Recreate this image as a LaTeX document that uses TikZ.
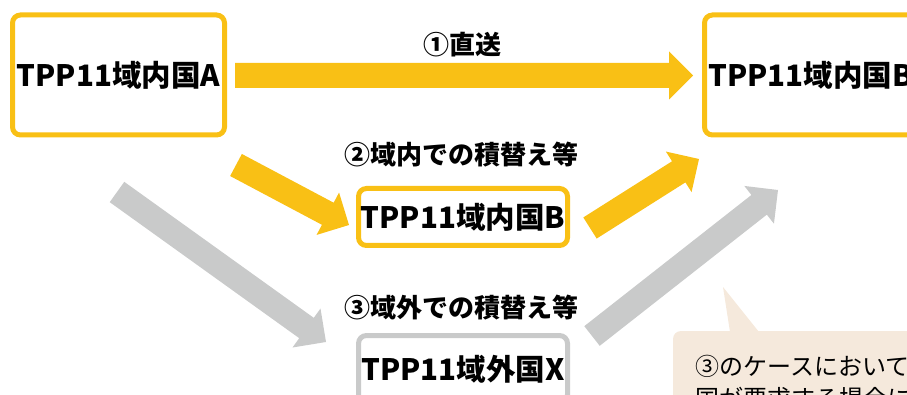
\documentclass[tikz,border=0pt]{standalone}
\usepackage{fontspec}
\setmainfont{Noto Sans CJK JP}
\usetikzlibrary{calc}
\definecolor{tyellow}{HTML}{F9C015}
\definecolor{tgray}{HTML}{C9CACA}
\definecolor{tbeige}{HTML}{F5E9DC}
\newcommand\fatarrow[3]{%
  \coordinate (fa-h) at ($(#3)!24pt!(#2)$);
  \fill[#1] ($(#2)!12.5pt!90:(#3)$) -- ($(fa-h)!12.5pt!90:(#3)$) -- ($(fa-h)!24pt!90:(#3)$) -- (#3)
    -- ($(fa-h)!24pt!-90:(#3)$) -- ($(fa-h)!12.5pt!-90:(#3)$) -- ($(#2)!12.5pt!-90:(#3)$) -- cycle;
}
\tikzset{
  box/.style={draw=tyellow, line width=5pt, rounded corners=8pt, fill=white, inner sep=0pt,
    font=\bfseries\fontsize{29.5}{29.5}\selectfont},
  graybox/.style={box, draw=tgray},
  lbl/.style={font=\bfseries\fontsize{26}{26}\selectfont, inner sep=0pt},
  note/.style={font=\fontsize{24}{24}\selectfont, anchor=west, inner sep=0pt},
  yarrow/.style={fill=tyellow},
  garrow/.style={fill=tgray},
}
\begin{document}
\begin{tikzpicture}[x=1pt,y=-1pt]
\useasboundingbox (0,0) rectangle (907,395);
\clip (0,0) rectangle (907,395);
% boxes
\node[box, minimum width=212pt, minimum height=120pt] (A) at (118.5,75) {TPP11域内国A};
\node[box, minimum width=212pt, minimum height=120pt] (Bend) at (810.5,75) {TPP11域内国B};
\node[box, minimum width=209pt, minimum height=57pt] (Bmid) at (463,217) {TPP11域内国B};
\node[graybox, minimum width=209pt, minimum height=67pt] (X) at (463,369) {TPP11域外国X};
% labels
\node[lbl] (l1) at (462,45) {①直送};
\node[lbl] (l2) at (461,155) {②域内での積替え等};
\node[lbl] (l3) at (461,308) {③域外での積替え等};
% arrow end points
\coordinate (a1s) at (235,75.5); \coordinate (a1e) at (693,75.5);
\coordinate (a2s) at (236,165); \coordinate (a2e) at (349,225);
\coordinate (a3s) at (590,228); \coordinate (a3e) at (699,159);
\coordinate (a4s) at (117,192); \coordinate (a4e) at (326,342);
\coordinate (a5s) at (592,336); \coordinate (a5e) at (778,190);
\fatarrow{yarrow}{a1s}{a1e}
\fatarrow{yarrow}{a2s}{a2e}
\fatarrow{yarrow}{a3s}{a3e}
\fatarrow{garrow}{a4s}{a4e}
\fatarrow{garrow}{a5s}{a5e}
% callout
\fill[tbeige, rounded corners=8pt] (673,331) rectangle (980,470);
\fill[tbeige] (723,287) -- (730,332) -- (759,332) -- cycle;
\node[note] (n1) at (695,366.5) {③のケースにおいて};
\node[note] (n2) at (695,398.5) {国が要求する場合に};
\end{tikzpicture}
\end{document}
